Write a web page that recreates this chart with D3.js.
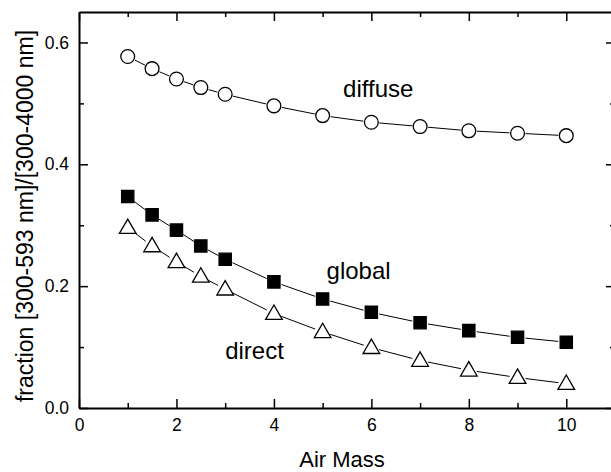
<!DOCTYPE html>
<html>
<head>
<script src="https://d3js.org/d3.v7.min.js"></script>
<style>
  body { margin: 0; background: #fff; }
  text { font-family: "Liberation Sans", Arial, sans-serif; fill: #000; }
</style>
</head>
<body>
<div id="chart"></div>
<script>
// data
var airMass = [1, 1.5, 2, 2.5, 3, 4, 5, 6, 7, 8, 9, 10];
var diffuse = [0.577, 0.557, 0.540, 0.526, 0.515, 0.496, 0.480, 0.469, 0.462, 0.455, 0.451, 0.447];
var global  = [0.347, 0.317, 0.292, 0.266, 0.244, 0.207, 0.179, 0.157, 0.140, 0.127, 0.116, 0.108];
var direct  = [0.296, 0.266, 0.240, 0.216, 0.195, 0.155, 0.125, 0.099, 0.078, 0.062, 0.050, 0.040];
var xMajor = [0, 2, 4, 6, 8, 10];
var xMinor = [1, 3, 5, 7, 9, 11];
var yMajor = [0, 0.2, 0.4, 0.6];
var yMinor = [0.1, 0.3, 0.5];

var W = 611, H = 472;
var margin = {top: 12, right: -4, bottom: 64, left: 79},
    width = W - margin.left - margin.right,
    height = H - margin.top - margin.bottom;

var svg = d3.select("#chart").append("svg")
    .attr("width", W).attr("height", H)
  .append("g")
    .attr("transform", "translate(" + margin.left + "," + margin.top + ")");

var x = d3.scaleLinear().domain([0, 11]).range([0, width]);
var y = d3.scaleLinear().domain([0, 0.65]).range([height, 0]);

function fmtY(d) { return d3.format(".1f")(d); }

// axes: major and minor ticks, all pointing inward
function drawAxis(axisFn, scale, major, minor, pos, labels, fmt, pad) {
    var g = svg.append("g").attr("transform", pos);
    g.call(axisFn(scale).tickValues(minor).tickSize(-5).tickFormat(""));
    g.select(".domain").remove();
    var g2 = svg.append("g").attr("transform", pos);
    g2.call(axisFn(scale).tickValues(major).tickSizeInner(-9).tickSizeOuter(0)
        .tickPadding(pad || 8).tickFormat(labels ? fmt : ""));
    g2.select(".domain").attr("stroke-width", 2);
    g.selectAll("line").attr("stroke-width", 1.5);
    g2.selectAll("line").attr("stroke-width", 1.5);
    g2.selectAll("text").style("font-size", "17.5px")
        .attr("font-family", "Liberation Sans, Arial, sans-serif");
    return g2;
}

drawAxis(d3.axisBottom, x, xMajor, xMinor, "translate(0," + height + ")", true, d3.format("d"), 11);
drawAxis(d3.axisTop, x, xMajor, xMinor, "translate(0,0)", false);
drawAxis(d3.axisLeft, y, yMajor, yMinor, "translate(0,0)", true, fmtY, 10);
drawAxis(d3.axisRight, y, yMajor, yMinor, "translate(" + width + ",0)", false);

// series
var series = [
    {name: "diffuse", values: diffuse, shape: "circle"},
    {name: "global", values: global, shape: "square"},
    {name: "direct", values: direct, shape: "triangle"}
];

var symbols = {
    circle: d3.symbol().type(d3.symbolCircle).size(150),
    square: d3.symbol().type(d3.symbolSquare).size(150),
    triangle: d3.symbol().type(d3.symbolTriangle).size(120)
};

series.forEach(function(s) {
    var pts = airMass.map(function(a, i) { return [x(a), y(s.values[i])]; });
    var gap = 8;
    // connecting segments stop short of the markers
    var segs = d3.pairs(pts).map(function(p) {
        var dx = p[1][0] - p[0][0], dy = p[1][1] - p[0][1];
        var len = Math.sqrt(dx * dx + dy * dy);
        var ux = dx / len, uy = dy / len;
        return [p[0][0] + ux * gap, p[0][1] + uy * gap, p[1][0] - ux * gap, p[1][1] - uy * gap];
    });
    svg.append("g").selectAll("line")
        .data(segs)
        .enter().append("line")
            .attr("x1", function(d) { return d[0]; })
            .attr("y1", function(d) { return d[1]; })
            .attr("x2", function(d) { return d[2]; })
            .attr("y2", function(d) { return d[3]; })
            .attr("stroke", "#000")
            .attr("stroke-width", 1);

    svg.append("g").selectAll("path")
        .data(s.values)
        .enter().append("path")
            .attr("d", symbols[s.shape])
            .attr("transform", function(d, i) {
                var dy = s.shape === "triangle" ? 1 : 0;
                return "translate(" + x(airMass[i]) + "," + (y(d) + dy) + ")";
            })
            .attr("fill", s.shape === "square" ? "#000" : "#fff")
            .attr("stroke", "#000")
            .attr("stroke-width", 1.3);
});

// labels in plot
var notes = [
    {text: "diffuse", ax: 5.42, ay: 0.511},
    {text: "global", ax: 5.08, ay: 0.212},
    {text: "direct", ax: 3.0, ay: 0.080}
];
svg.selectAll(".note")
    .data(notes)
    .enter().append("text")
        .attr("class", "note")
        .attr("x", function(d) { return x(d.ax); })
        .attr("y", function(d) { return y(d.ay); })
        .style("font-size", "24px")
        .text(function(d) { return d.text; });

// axis titles
svg.append("text")
    .attr("text-anchor", "middle")
    .attr("x", 263)
    .attr("y", height + 59)
    .style("font-size", "22px")
    .text("Air Mass");

svg.append("text")
    .attr("text-anchor", "middle")
    .attr("transform", "rotate(-90)")
    .attr("x", -(216 - margin.top))
    .attr("y", -46)
    .style("font-size", "23px")
    .text("fraction [300-593 nm]/[300-4000 nm]");
</script>
</body>
</html>
